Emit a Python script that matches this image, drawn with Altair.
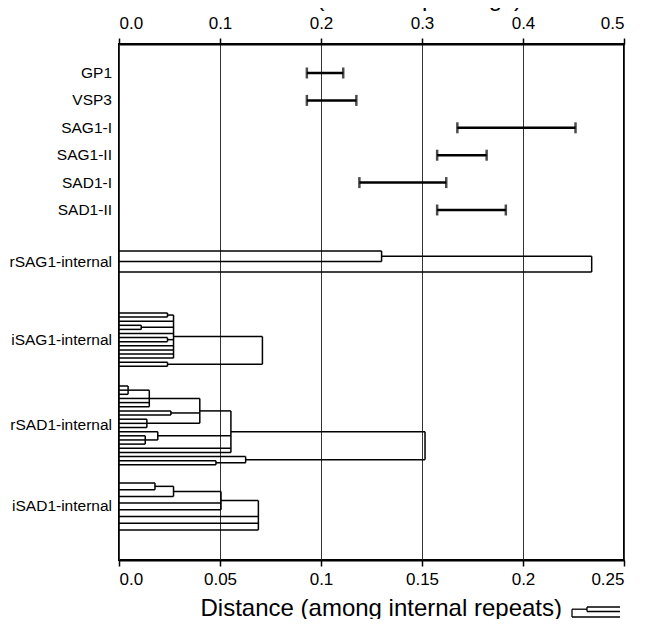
import altair as alt
import pandas as pd

# ---------------- data ----------------
PARALOGS = ["GP1", "VSP3", "SAG1-I", "SAG1-II", "SAD1-I", "SAD1-II"]
PARA_LO = [0.186, 0.186, 0.335, 0.315, 0.238, 0.315]
PARA_HI = [0.222, 0.235, 0.452, 0.364, 0.324, 0.383]

REPEAT_GROUPS = ["rSAG1-internal", "iSAG1-internal", "rSAD1-internal", "iSAD1-internal"]
# trees: (merge height, [children]); 0 = leaf
TREE_rSAG1 = (0.234, [(0.130, [0, 0]), 0])
TREE_iSAG1 = (0.071, [(0.027, [(0.024, [0, 0]), 0, (0.011, [0, 0]), 0,
                               (0.024, [0, 0]), 0, 0, 0, 0]),
                      (0.024, [0, 0])])
TREE_rSAD1 = (0.1515, [(0.0554, [(0.040, [(0.015, [(0.0045, [0, 0, 0]), 0, 0, 0]),
                                          (0.0257, [0, 0]),
                                          (0.0138, [0, 0, 0])]),
                                 (0.0192, [0, (0.013, [0, 0, 0])]),
                                 0, 0]),
                       (0.0627, [0, (0.048, [0, 0])])])
TREE_iSAD1 = (0.069, [(0.0505, [(0.027, [(0.0178, [0, 0]), 0]), 0, 0]), 0, 0, 0])
TREES = [TREE_rSAG1, TREE_iSAG1, TREE_rSAD1, TREE_iSAD1]

# ---------------- layout ----------------
W, H = 505, 516
ROW0, ROWSTEP = 29, 27.4
GROUP_TOP = [207, 269, 342, 439]
GROUP_STEP = [10.5, 4.1, 4.15, 6.7]
FONT = "Liberation Sans"


def tree_segments(tree, y0, dy):
    segs = []
    counter = [0]

    def walk(node):
        if node == 0:
            y = y0 + counter[0] * dy
            counter[0] += 1
            return 0.0, y
        h, children = node
        res = [walk(c) for c in children]
        for ch, cy in res:
            segs.append({"x": ch, "x2": h, "y": cy, "y2": cy})
        segs.append({"x": h, "x2": h, "y": res[0][1], "y2": res[-1][1]})
        return h, (res[0][1] + res[-1][1]) / 2

    walk(tree)
    n = counter[0]
    return segs, y0 + (n - 1) * dy / 2


seg_rows, label_rows = [], []
for name, tree, top, step in zip(REPEAT_GROUPS, TREES, GROUP_TOP, GROUP_STEP):
    s, mid = tree_segments(tree, top, step)
    seg_rows += s
    label_rows.append({"label": name, "y": mid})

para_df = pd.DataFrame({
    "label": PARALOGS,
    "lo": PARA_LO,
    "hi": PARA_HI,
    "y": [ROW0 + i * ROWSTEP for i in range(len(PARALOGS))],
})
for _, r in para_df.iterrows():
    label_rows.append({"label": r["label"], "y": r["y"]})

seg_df = pd.DataFrame(seg_rows)
lab_df = pd.DataFrame(label_rows)

yscale = alt.Scale(domain=[0, H], reverse=True, nice=False, zero=False)

dendro = alt.Chart(seg_df).mark_rule(color="black", strokeWidth=1.5).encode(
    x=alt.X("x:Q", scale=alt.Scale(domain=[0, 0.25], nice=False),
            axis=alt.Axis(orient="bottom", values=[0, 0.05, 0.1, 0.15, 0.2, 0.25],
                          labelExpr="datum.value == 0 ? '0.0' : format(datum.value, '.2~f')",
                          title="Distance (among internal repeats)",
                          titleFontSize=24, titleAnchor="start", titleAlign="left",
                          titleX=81, titleY=55, titleBaseline="alphabetic",
                          labelPadding=5, grid=False)),
    x2="x2:Q",
    y=alt.Y("y:Q", scale=yscale, axis=None),
    y2="y2:Q",
)

topx = alt.Scale(domain=[0, 0.5], nice=False)
top_axis = alt.Axis(orient="top", values=[0, 0.1, 0.2, 0.3, 0.4, 0.5], format=".1f",
                    grid=True, gridColor="#333333", gridWidth=1,
                    title="Distance (between paralogs)", titleFontSize=24,
                    titleAnchor="start", titleAlign="left", titleX=97,
                    labelPadding=6)
err_rule = alt.Chart(para_df).mark_rule(color="black", strokeWidth=2.5).encode(
    x=alt.X("lo:Q", scale=topx, axis=top_axis),
    x2="hi:Q",
    y=alt.Y("y:Q", scale=yscale, axis=None),
)
err_caps = alt.Chart(para_df).transform_fold(["lo", "hi"], as_=["end", "val"]).mark_tick(
    color="black", thickness=2.5, size=11, orient="vertical").encode(
    x=alt.X("val:Q", scale=topx, axis=top_axis),
    y=alt.Y("y:Q", scale=yscale, axis=None),
)
err = alt.layer(err_rule, err_caps)

labels = alt.Chart(lab_df).mark_text(align="right", baseline="middle", fontSize=15.5,
                                     font=FONT, color="black").encode(
    x=alt.value(-7),
    y=alt.Y("y:Q", scale=yscale, axis=None),
    text="label:N",
)

# small dendrogram glyph next to the bottom title (pixel positions)
icon_df = pd.DataFrame({
    "x": [468, 468, 453, 468, 453, 453],
    "x2": [501, 501, 501, 468, 468, 453],
    "y": [563, 567.5, 573, 563, 565.2, 565.2],
    "y2": [563, 567.5, 573, 567.5, 565.2, 573],
})
icon = alt.Chart(icon_df).mark_rule(color="black", strokeWidth=1.3).encode(
    x=alt.X("x:Q", scale=None, axis=None), x2="x2:Q",
    y=alt.Y("y:Q", scale=None, axis=None), y2="y2:Q",
)

chart = alt.layer(dendro, err, labels, icon).resolve_scale(
    x="independent", y="independent"
).properties(
    width=W, height=H,
    autosize=alt.AutoSizeParams(type="none"),
    padding={"left": 111, "top": 36, "right": 17, "bottom": 59},
).configure_view(
    stroke="black", strokeWidth=2
).configure_axis(
    domainColor="black", domainWidth=2, tickColor="black", tickWidth=1.5, tickSize=6,
    labelFont=FONT, labelFontSize=17, labelColor="black",
    titleFont=FONT, titleFontWeight="normal", titleColor="black",
)

chart.save("out.html", embed_options={"renderer": "svg", "actions": False})
